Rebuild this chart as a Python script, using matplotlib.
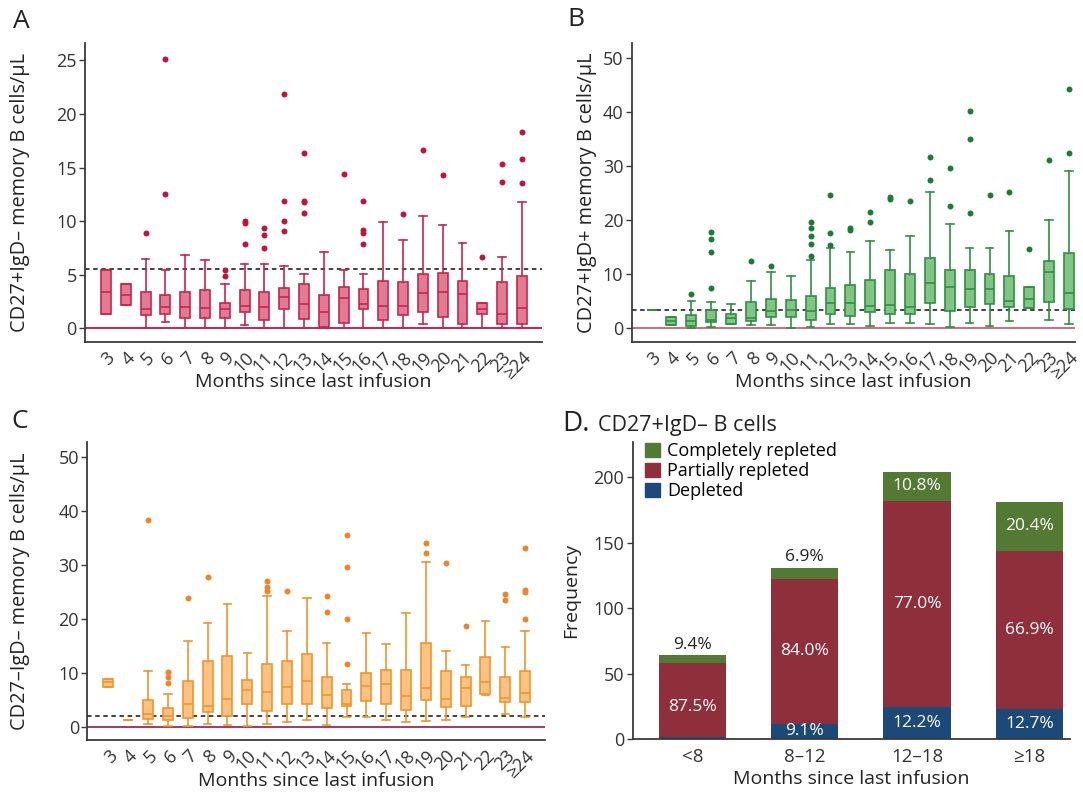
import matplotlib
matplotlib.use("Agg")
import matplotlib.pyplot as plt
from matplotlib.patches import Patch

plt.rcParams["font.family"] = ["Open Sans", "DejaVu Sans"]

# ---------------- data ----------------
months = ["3", "4", "5", "6", "7", "8", "9", "10", "11", "12", "13", "14",
          "15", "16", "17", "18", "19", "20", "21", "22", "23", "≥24"]

# Panel A: CD27+IgD- memory B cells
a_med = [3.4, 3.1, 1.8, 2.0, 2.0, 1.9, 1.8, 2.1, 2.0, 2.9, 2.3, 1.5, 2.8, 2.3, 2.1, 2.1, 3.3, 3.4, 3.2, 1.8, 1.3, 1.9]
a_q1 = [1.3, 2.2, 1.2, 1.3, 1.0, 1.0, 1.0, 1.5, 0.8, 1.8, 0.9, 0.1, 0.5, 1.8, 0.8, 1.2, 1.5, 1.1, 0.4, 1.3, 0.4, 0.4]
a_q3 = [5.4, 4.1, 3.4, 3.1, 3.4, 3.6, 2.4, 3.6, 3.4, 3.8, 4.1, 3.1, 3.9, 3.7, 4.4, 4.3, 5.1, 5.2, 4.4, 2.4, 4.3, 4.9]
a_lo = [1.3, 2.2, 0, 0.6, 0, 0, 0, 0.3, 0, 0, 0, 0, 0, 0, 0, 0, 0.4, 0, 0, 0, 0, 0]
a_hi = [5.4, 4.1, 6.5, 5.4, 6.8, 6.4, 4.1, 6.0, 6.0, 5.8, 5.1, 7.1, 5.4, 5.1, 9.9, 8.2, 10.5, 9.6, 8.0, 2.4, 6.7, 11.8]
a_fliers = [[], [], [8.9], [25.1, 12.5], [], [], [5.4, 4.9], [9.8, 10.0, 7.9],
            [9.4, 8.7, 7.5], [21.9, 11.9, 10.0, 9.1], [16.4, 11.9, 11.8, 10.8], [],
            [14.4], [11.9, 9.2, 8.9, 7.9], [], [10.7], [16.6], [14.3], [], [6.7],
            [15.3, 13.7], [18.3, 15.8, 13.6]]

# Panel B: CD27+IgD+ memory B cells
b_med = [3.3, 1.3, 1.35, 1.5, 1.85, 1.85, 3.1, 3.4, 3.1, 4.6, 4.6, 4.1, 4.3, 3.9, 8.3, 7.6, 7.3, 7.2, 5.1, 5.4, 10.4, 6.5]
b_q1 = [3.3, 0.55, 0.5, 1.2, 0.8, 1.3, 2.0, 2.15, 1.55, 2.65, 2.3, 3.0, 2.6, 2.7, 4.75, 3.2, 3.9, 4.5, 3.9, 3.7, 4.9, 3.5]
b_q3 = [3.3, 2.0, 2.5, 3.3, 2.65, 4.9, 5.4, 5.25, 6.0, 7.4, 8.0, 8.9, 10.7, 10.0, 13.0, 10.8, 10.8, 10.0, 9.75, 7.6, 12.5, 13.9]
b_lo = [3.3, 0.55, 0.1, 0.3, 0.7, 0.55, 0.65, 0.1, 0.3, 0.8, 0.8, 0.4, 1.0, 1.0, 0.8, 0.2, 0.9, 0.4, 1.35, 3.7, 1.5, 0.75]
b_hi = [3.3, 2.0, 5.1, 4.9, 4.4, 8.7, 10.5, 9.6, 12.6, 14.9, 14.2, 16.2, 14.5, 17.1, 25.3, 19.3, 14.8, 14.8, 18.0, 7.6, 20.0, 29.1]
b_fliers = [[], [], [6.4], [17.9, 16.5, 14.2, 7.5], [], [12.4], [11.5], [],
            [19.7, 18.5, 17.1, 15.6, 13.3], [24.6, 17.7, 15.4], [18.6, 18.2],
            [21.6, 19.6], [24.4, 24.0], [23.6], [31.7, 27.5], [29.7, 22.7],
            [40.3, 35.0, 21.4], [24.6], [25.2], [14.7], [31.2], [44.3, 32.5]]

# Panel C: CD27-IgD- memory B cells
c_med = [8.3, 1.3, 2.5, 2.1, 4.3, 4.0, 5.3, 6.9, 6.5, 7.4, 8.5, 5.9, 4.4, 7.7, 8.0, 5.8, 7.2, 5.2, 7.2, 8.3, 5.4, 6.3]
c_q1 = [7.5, 1.3, 1.5, 1.35, 1.7, 2.9, 2.1, 4.4, 3.1, 4.3, 4.4, 3.6, 3.9, 4.9, 4.3, 3.2, 5.1, 3.8, 4.0, 6.2, 4.75, 4.6]
c_q3 = [8.9, 1.3, 5.1, 3.6, 8.5, 12.3, 13.3, 8.7, 11.7, 12.2, 13.6, 9.4, 6.9, 10.0, 10.6, 10.7, 15.7, 10.5, 9.4, 13.0, 9.4, 10.5]
c_lo = [7.5, 1.3, 0.7, 0.2, 0.2, 0.7, 0.4, 0.2, 0.6, 0.9, 1.35, 0.4, 1.85, 1.85, 1.35, 0.9, 1.2, 1.35, 1.85, 6.0, 2.4, 1.85]
c_hi = [8.9, 1.3, 10.4, 6.2, 16.0, 19.3, 22.8, 13.8, 24.4, 17.9, 23.9, 15.7, 8.0, 17.4, 15.4, 21.2, 30.6, 14.2, 11.6, 19.6, 14.9, 17.8]
c_fliers = [[], [], [38.4], [10.3, 9.4, 8.2], [24.0], [27.9], [], [],
            [27.1, 25.9, 25.2], [25.2], [], [24.3, 21.3], [35.6, 29.7, 20.0, 11.7],
            [], [], [], [34.1, 32.3], [30.4], [18.8], [], [24.6, 23.5],
            [33.3, 25.4, 25.0, 20.0]]

# Panel D: frequency by depletion status
groups = ["<8", "8–12", "12–18", "≥18"]
depleted = [2, 12, 25, 23]
partial = [56, 110, 157, 121]
complete = [6, 9, 22, 37]
depleted_lbl = ["", "9.1%", "12.2%", "12.7%"]
partial_lbl = ["87.5%", "84.0%", "77.0%", "66.9%"]
complete_lbl = ["9.4%", "6.9%", "10.8%", "20.4%"]

SPINE = "#3a3a3a"
W, H = 1083, 795


def px_axes(left, top, right, bottom):
    return [left / W, 1 - bottom / H, (right - left) / W, (bottom - top) / H]


def style_axis(ax):
    for s in ["top", "right"]:
        ax.spines[s].set_visible(False)
    for s in ["left", "bottom"]:
        ax.spines[s].set_color(SPINE)
        ax.spines[s].set_linewidth(1.3)
    ax.tick_params(axis="y", length=4, width=1, color=SPINE, labelsize=13,
                   labelcolor="#333333", pad=2)
    ax.tick_params(axis="x", length=0, labelsize=13, labelcolor="#333333", pad=5)


def box_panel(ax, med, q1, q3, lo, hi, fliers, face, edge, dot, zero_col,
              cutoff, ylim, yticks, ylabel):
    stats = []
    for i in range(len(med)):
        stats.append(dict(med=med[i], q1=q1[i], q3=q3[i], whislo=lo[i],
                          whishi=hi[i], fliers=fliers[i]))
    ax.axhline(0, color=zero_col, lw=1.4, zorder=1)
    ax.axhline(cutoff, color="#333333", lw=1.3, ls=(0, (2.5, 2)), zorder=1)
    ax.bxp(stats, positions=range(len(med)), widths=0.5, capwidths=0.38,
           patch_artist=True, manage_ticks=False,
           boxprops=dict(facecolor=face, edgecolor=edge, linewidth=1.2),
           whiskerprops=dict(color=edge, linewidth=1.2),
           capprops=dict(color=edge, linewidth=1.2),
           medianprops=dict(color=edge, linewidth=1.2),
           flierprops=dict(marker="o", markersize=4.3, markerfacecolor=dot,
                           markeredgecolor="none"))
    style_axis(ax)
    ax.set_xlim(-1.06, 22.0)
    ax.set_ylim(*ylim)
    ax.set_yticks(yticks)
    ax.set_xticks(range(len(months)))
    ax.set_xticklabels(months, rotation=45, ha="right", rotation_mode="anchor")
    ax.set_ylabel(ylabel, fontsize=14.3, color="#222222")
    ax.set_xlabel("Months since last infusion", fontsize=14, color="#222222")


fig = plt.figure(figsize=(10.83, 7.95), dpi=100)

axA = fig.add_axes(px_axes(85, 43.3, 541.7, 341.7))
box_panel(axA, a_med, a_q1, a_q3, a_lo, a_hi, a_fliers, "#e07b93", "#c8254d",
          "#c0143c", "#c8254d", 5.5, (-1.25, 26.6), [0, 5, 10, 15, 20, 25],
          "CD27+IgD– memory B cells/μL")
axA.yaxis.set_label_coords(-0.12, 0.5)
axA.xaxis.set_label_coords(0.5, -0.105)

axB = fig.add_axes(px_axes(631.7, 43.3, 1075, 341.7))
box_panel(axB, b_med, b_q1, b_q3, b_lo, b_hi, b_fliers, "#80c583", "#2f8f43",
          "#1b7d35", "#d06a7e", 3.3, (-2.5, 52.8), [0, 10, 20, 30, 40, 50],
          "CD27+IgD+ memory B cells/μL")
axB.set_xlim(-1.0, 21.3)
axB.yaxis.set_label_coords(-0.078, 0.5)
axB.xaxis.set_label_coords(0.5, -0.105)

axC = fig.add_axes(px_axes(87.3, 441.7, 545, 740))
box_panel(axC, c_med, c_q1, c_q3, c_lo, c_hi, c_fliers, "#fcc283", "#f0952e",
          "#f08426", "#a33a62", 2.1, (-2.35, 52.9), [0, 10, 20, 30, 40, 50],
          "CD27–IgD– memory B cells/μL")
axC.yaxis.set_label_coords(-0.125, 0.5)
axC.xaxis.set_label_coords(0.5, -0.107)

# Panel D: stacked bars
axD = fig.add_axes(px_axes(632.7, 441.7, 1070, 739.3))
x = list(range(len(groups)))
c_blue, c_red, c_green = "#1c4a78", "#8e2f3b", "#537a33"
bottom2 = [d + p for d, p in zip(depleted, partial)]
axD.bar(x, depleted, width=0.6, color=c_blue)
axD.bar(x, partial, width=0.6, bottom=depleted, color=c_red)
axD.bar(x, complete, width=0.6, bottom=bottom2, color=c_green)
for i in x:
    if depleted_lbl[i]:
        axD.text(i, depleted[i] / 2, depleted_lbl[i], ha="center", va="center",
                 color="white", fontsize=12.5)
    axD.text(i, depleted[i] + partial[i] / 2 - (5 if i == 0 else 0), partial_lbl[i],
             ha="center", va="center", color="white", fontsize=12.5)
    top = bottom2[i] + complete[i]
    if complete[i] < 15:
        axD.text(i, top + 2, complete_lbl[i], ha="center", va="bottom",
                 color="#222222", fontsize=12.5)
    else:
        axD.text(i, bottom2[i] + complete[i] / 2, complete_lbl[i], ha="center",
                 va="center", color="white", fontsize=12.5)
style_axis(axD)
axD.tick_params(axis="y", labelsize=13)
axD.tick_params(axis="x", labelsize=13.5, pad=6)
axD.set_xlim(-0.53, 3.36)
axD.set_ylim(0, 227)
axD.set_yticks([0, 50, 100, 150, 200])
axD.set_xticks(x)
axD.set_xticklabels(groups)
axD.set_ylabel("Frequency", fontsize=14, color="#222222")
axD.set_xlabel("Months since last infusion", fontsize=14, color="#222222")
axD.yaxis.set_label_coords(-0.12, 0.5)
axD.xaxis.set_label_coords(0.5, -0.103)
handles = [Patch(color=c_green, label="Completely repleted"),
           Patch(color=c_red, label="Partially repleted"),
           Patch(color=c_blue, label="Depleted")]
axD.legend(handles=handles, loc="upper left", bbox_to_anchor=(0.0, 1.04),
           frameon=False, fontsize=13, handlelength=0.8, handleheight=0.8,
           handletextpad=0.4, labelspacing=0.1, borderaxespad=0.3)

# panel letters
fig.text(21 / W, 1 - 22 / H, "A", fontsize=19, ha="center", va="center", color="#222222")
fig.text(576 / W, 1 - 20 / H, "B", fontsize=19, ha="center", va="center", color="#222222")
fig.text(20 / W, 1 - 422 / H, "C", fontsize=19, ha="center", va="center", color="#222222")
fig.text(562 / W, 1 - 431 / H, "D.", fontsize=20, ha="left", va="baseline", color="#222222")
fig.text(598 / W, 1 - 431 / H, "CD27+IgD– B cells", fontsize=15.5, ha="left",
         va="baseline", color="#222222")

fig.savefig("out.png", dpi=100)
